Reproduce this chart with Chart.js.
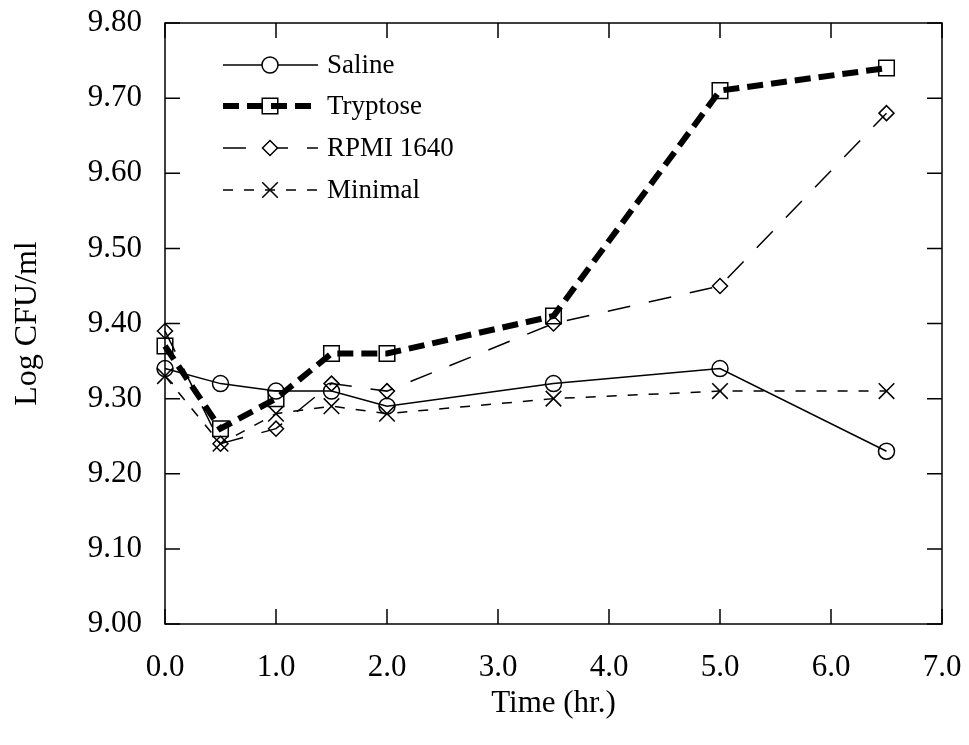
<!DOCTYPE html>
<html>
<head>
<meta charset="utf-8">
<script src="https://cdn.jsdelivr.net/npm/chart.js@4"></script>
<style>
  html, body { margin: 0; padding: 0; background: #fff; }
  canvas { display: block; }
</style>
</head>
<body>
<canvas id="growthChart" width="969" height="745"></canvas>
<script>
// ---------------- Datos ----------------

const times = [0, 0.5, 1.0, 1.5, 2.0, 3.5, 5.0, 6.5];

const saline   = [9.34, 9.32, 9.31, 9.31, 9.29, 9.32, 9.34, 9.23];
const tryptose = [9.37, 9.26, 9.30, 9.36, 9.36, 9.41, 9.71, 9.74];
const rpmi     = [9.39, 9.24, 9.26, 9.32, 9.31, 9.40, 9.45, 9.68];
const minimal  = [9.33, 9.24, 9.28, 9.29, 9.28, 9.30, 9.31, 9.31];

const seriesLabels = ['Saline', 'Tryptose', 'RPMI 1640', 'Minimal'];

const xTicks = [0, 1, 2, 3, 4, 5, 6, 7];
const yTicks = [9.0, 9.1, 9.2, 9.3, 9.4, 9.5, 9.6, 9.7, 9.8];

const SERIF = '"Liberation Serif", "Times New Roman", serif';

// ---------------- Helpers ----------------

function toPoints(values) {
    return values.map((v, i) => ({ x: times[i], y: v }));
}

function makeSeries({ label, data, dash, width, style, radius }) {
    return {
        label,
        data: toPoints(data),
        showLine: true,
        borderColor: '#000',
        backgroundColor: 'rgba(0,0,0,0)',
        borderWidth: width,
        borderDash: dash,
        tension: 0,
        clip: false,
        pointStyle: style,
        pointRadius: radius,
        pointHoverRadius: radius,
        pointBorderColor: '#000',
        pointBackgroundColor: 'rgba(0,0,0,0)',
        pointBorderWidth: 1.5
    };
}

function drawMarker(ctx, style, x, y, r) {
    ctx.save();
    ctx.setLineDash([]);
    ctx.lineWidth = 1.5;
    ctx.strokeStyle = '#000';
    ctx.fillStyle = '#fff';
    ctx.beginPath();
    if (style === 'circle') {
        ctx.arc(x, y, r, 0, Math.PI * 2);
        ctx.fill();
    } else if (style === 'rect') {
        const s = r * Math.SQRT1_2;
        ctx.rect(x - s, y - s, 2 * s, 2 * s);
    } else if (style === 'rectRot') {
        ctx.moveTo(x, y - r);
        ctx.lineTo(x + r, y);
        ctx.lineTo(x, y + r);
        ctx.lineTo(x - r, y);
        ctx.closePath();
        ctx.fill();
    } else if (style === 'crossRot') {
        const s = r * Math.SQRT1_2;
        ctx.moveTo(x - s, y - s);
        ctx.lineTo(x + s, y + s);
        ctx.moveTo(x + s, y - s);
        ctx.lineTo(x - s, y + s);
    }
    ctx.stroke();
    ctx.restore();
}

// ---------------- Plugins: marco, ticks internos y leyenda ----------------

const frameTicks = {
    id: 'frameTicks',
    afterDraw(chart) {
        const { ctx, chartArea: a, scales } = chart;
        const len = 15;
        ctx.save();
        ctx.strokeStyle = '#000';
        ctx.lineWidth = 1.5;
        ctx.strokeRect(a.left, a.top, a.right - a.left, a.bottom - a.top);
        ctx.beginPath();
        xTicks.forEach(t => {
            const px = scales.x.getPixelForValue(t);
            ctx.moveTo(px, a.bottom); ctx.lineTo(px, a.bottom - len);
            ctx.moveTo(px, a.top);    ctx.lineTo(px, a.top + len);
        });
        yTicks.forEach(t => {
            const py = scales.y.getPixelForValue(t);
            ctx.moveTo(a.left, py);  ctx.lineTo(a.left + len, py);
            ctx.moveTo(a.right, py); ctx.lineTo(a.right - len, py);
        });
        ctx.stroke();
        ctx.restore();
    }
};

const boxLegend = {
    id: 'boxLegend',
    afterDraw(chart) {
        const { ctx } = chart;
        const rows = [65, 106, 148, 190];
        const x0 = 223, x1 = 318, xm = 270, xt = 327;
        chart.data.datasets.forEach((ds, i) => {
            const y = rows[i];
            ctx.save();
            ctx.strokeStyle = '#000';
            ctx.lineWidth = ds.borderWidth;
            ctx.setLineDash(ds.borderDash);
            ctx.beginPath();
            ctx.moveTo(x0, y);
            ctx.lineTo(x1, y);
            ctx.stroke();
            ctx.restore();
            drawMarker(ctx, ds.pointStyle, xm, y, ds.pointRadius);
            ctx.save();
            ctx.fillStyle = '#000';
            ctx.font = '27px ' + SERIF;
            ctx.textBaseline = 'middle';
            ctx.textAlign = 'left';
            ctx.fillText(ds.label, xt, y + 1);
            ctx.restore();
        });
    }
};

// ---------------- Gráfica ----------------

new Chart(document.getElementById('growthChart'), {
    type: 'scatter',
    data: {
        datasets: [
            makeSeries({ label: seriesLabels[0], data: saline,   dash: [],       width: 1.5, style: 'circle',   radius: 8 }),
            makeSeries({ label: seriesLabels[1], data: tryptose, dash: [16, 8],  width: 6,   style: 'rect',     radius: 11 }),
            makeSeries({ label: seriesLabels[2], data: rpmi,     dash: [23, 19], width: 1.5, style: 'rectRot',  radius: 7.5 }),
            makeSeries({ label: seriesLabels[3], data: minimal,  dash: [10, 11], width: 1.5, style: 'crossRot', radius: 11 })
        ]
    },
    options: {
        responsive: false,
        devicePixelRatio: 1,
        animation: false,
        layout: { padding: { top: 23, right: 27, left: 0, bottom: 0 } },
        plugins: {
            legend: { display: false },
            tooltip: { enabled: false }
        },
        scales: {
            x: {
                type: 'linear',
                min: 0,
                max: 7,
                afterBuildTicks: s => { s.ticks = xTicks.map(v => ({ value: v })); },
                afterFit: s => { s.height = 121; s.paddingLeft = 0; s.paddingRight = 0; },
                grid: { display: false, drawTicks: false },
                border: { display: false },
                ticks: {
                    color: '#000',
                    padding: 25,
                    maxRotation: 0,
                    font: { family: SERIF, size: 31 },
                    callback: v => Number(v).toFixed(1)
                },
                title: {
                    display: true,
                    text: 'Time (hr.)',
                    color: '#000',
                    font: { family: SERIF, size: 31 },
                    padding: { top: 0, bottom: 23 }
                }
            },
            y: {
                type: 'linear',
                min: 9.0,
                max: 9.8,
                afterBuildTicks: s => { s.ticks = yTicks.map(v => ({ value: v })); },
                afterFit: s => { s.width = 165; s.paddingTop = 0; s.paddingBottom = 0; },
                grid: { display: false, drawTicks: false },
                border: { display: false },
                ticks: {
                    color: '#000',
                    padding: 23,
                    font: { family: SERIF, size: 31 },
                    callback: v => Number(v).toFixed(2)
                },
                title: {
                    display: true,
                    text: 'Log CFU/ml',
                    color: '#000',
                    font: { family: SERIF, size: 32 },
                    padding: { top: 8, bottom: 0 }
                }
            }
        }
    },
    plugins: [frameTicks, boxLegend]
});
</script>
</body>
</html>
